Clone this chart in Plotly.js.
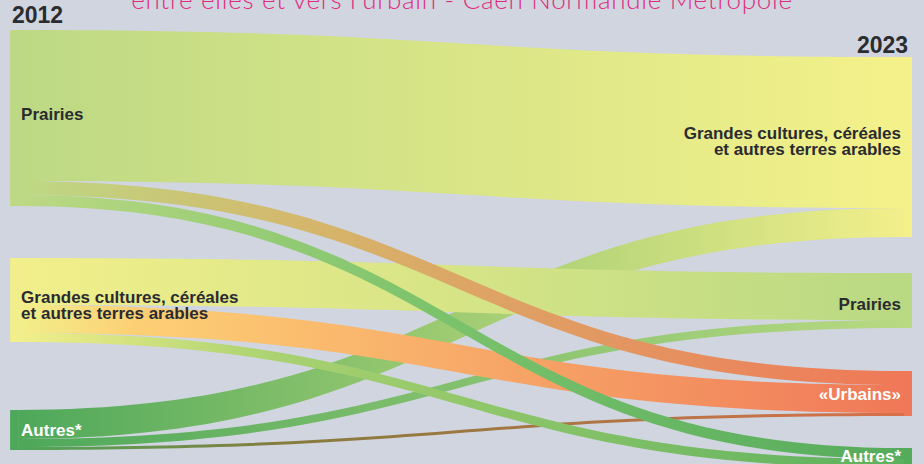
<!DOCTYPE html>
<html>
<head>
<meta charset="utf-8">
<script src="https://cdn.plot.ly/plotly-3.0.1.min.js"></script>
<style>
html,body{margin:0;padding:0;overflow:hidden;background:#d0d5df;width:924px;height:464px;}
#plot{width:924px;height:500px;}
</style>
</head>
<body>
<div id="plot"></div>
<script>
// ---- data ----
const titleText = "entre elles et vers l'urbain - Caen Normandie Métropole";
const yearLabels = ['2012', '2023'];
const nodeLabels = [
  'Prairies',
  'Grandes cultures, céréales<br>et autres terres arables',
  'Autres*',
  'Grandes cultures, céréales<br>et autres terres arables',
  'Prairies',
  '«Urbains»',
  'Autres*'
];
const linkSource = [2, 2, 2, 1, 1, 1, 0, 0, 0];
const linkTarget = [3, 4, 5, 4, 5, 6, 3, 5, 6];
const linkValue  = [29, 8, 3, 47, 28, 9, 151, 14, 11];

// ---- styles / layout ----
const nodeColors = ['#bdd984', '#f2ef8b', '#4ea85a', '#f4f18a', '#b9d982', '#f07858', '#55ab5c'];
const labelColors = ['#2a2b30', '#2a2b30', '#ffffff', '#2a2b30', '#2a2b30', '#ffffff', '#ffffff'];
const labelShift = [-4, 6, 0, -5, 4, 1, -2];
const nodeX = [0.0001, 0.0001, 0.0001, 1, 1, 1, 1];
const nodeY = [0.21778, 0.62222, 0.91111, 0.28222, 0.62333, 0.83, 0.97333];
const linkStops = [
  [[0, '#4ea85a'], [1, '#f2ef8b']],
  [[0, '#4ea85a'], [1, '#b9d982']],
  [[0, '#4ea85a'], [0.3, '#857b3e'], [1, '#d8704a']],
  [[0, '#f2ef8b'], [1, '#b9d982']],
  [[0, '#f2ef8b'], [0.13, '#fdd075'], [1, '#f07858']],
  [[0, '#f2ef8b'], [0.3, '#a8d170'], [1, '#5cb05e']],
  [[0, '#bdd984'], [1, '#f4f18a']],
  [[0, '#bdd984'], [0.35, '#d6b46a'], [1, '#f07858']],
  [[0, '#bdd984'], [0.45, '#7dc46c'], [1, '#55ab5c']]
];
const linkFallback = linkStops.map(s => s[Math.floor(s.length / 2)][1]);

const trace = {
  type: 'sankey',
  arrangement: 'fixed',
  domain: {x: [0, 1], y: [0, 1]},
  node: {
    label: nodeLabels,
    color: nodeColors,
    x: nodeX,
    y: nodeY,
    pad: 50,
    thickness: 8,
    line: {width: 0},
    hoverinfo: 'none'
  },
  link: {
    source: linkSource,
    target: linkTarget,
    value: linkValue,
    color: linkFallback,
    line: {width: 0},
    hoverinfo: 'none'
  },
  textfont: {family: 'Liberation Sans, Arial, sans-serif', size: 17, weight: 'bold', color: '#2a2b30', shadow: 'none'}
};

const layout = {
  width: 924,
  height: 500,
  margin: {l: 14, r: 16, t: 20, b: 30},
  paper_bgcolor: '#d0d5df',
  plot_bgcolor: '#d0d5df',
  title: {
    text: titleText,
    x: 0.5, xref: 'container', xanchor: 'center',
    y: 1, yref: 'container', yanchor: 'middle',
    font: {family: 'Lato, Open Sans, sans-serif', size: 26, weight: 300, color: '#e02c7f'}
  },
  annotations: [
    {text: yearLabels[0], xref: 'paper', yref: 'paper', x: -0.0045, y: 1.01, xanchor: 'left', yanchor: 'middle',
     showarrow: false, font: {family: 'Liberation Sans, Arial, sans-serif', size: 23, weight: 'bold', color: '#2b2c30'}},
    {text: yearLabels[1], xref: 'paper', yref: 'paper', x: 1.0022, y: 0.944, xanchor: 'right', yanchor: 'middle',
     showarrow: false, font: {family: 'Liberation Sans, Arial, sans-serif', size: 23, weight: 'bold', color: '#2b2c30'}}
  ]
};

function decorate() {
  const gd = document.getElementById('plot');
  const svg = gd.querySelector('.main-svg');
  if (!svg) return;
  const ns = 'http://www.w3.org/2000/svg';
  let defs = document.getElementById('linkgrads');
  if (!defs) {
    defs = document.createElementNS(ns, 'defs');
    defs.setAttribute('id', 'linkgrads');
    svg.insertBefore(defs, svg.firstChild);
    linkStops.forEach((stops, i) => {
      const g = document.createElementNS(ns, 'linearGradient');
      g.setAttribute('id', 'lg' + i);
      g.setAttribute('x1', '0'); g.setAttribute('x2', '1');
      g.setAttribute('y1', '0'); g.setAttribute('y2', '0');
      stops.forEach(s => {
        const st = document.createElementNS(ns, 'stop');
        st.setAttribute('offset', s[0]);
        st.setAttribute('stop-color', s[1]);
        g.appendChild(st);
      });
      defs.appendChild(g);
    });
  }
  gd.querySelectorAll('.sankey-link').forEach((p, idx) => {
    const d = p.__data__ || {};
    let i = (d.link && d.link.pointNumber !== undefined) ? d.link.pointNumber :
            (d.pointNumber !== undefined ? d.pointNumber : idx);
    p.style.fill = 'url(#lg' + i + ')';
    p.style.fillOpacity = 1;
  });
  const title = gd.querySelector('.gtitle');
  if (title) title.style.letterSpacing = '0.7px';
  gd.querySelectorAll('.sankey-node').forEach((n, idx) => {
    const d = n.__data__ || {};
    let i = (d.node && d.node.pointNumber !== undefined) ? d.node.pointNumber : idx;
    const t = n.querySelector('.node-label');
    if (t && labelColors[i]) {
      t.style.fill = labelColors[i];
      t.style.textShadow = 'none';
      const lines = t.querySelectorAll('tspan.line');
      if (lines.length > 1 && !t.dataset.adj) {
        t.dataset.adj = '1';
        lines.forEach((ln, k) => {
          if (k === 0) {
            const dy = parseFloat(ln.getAttribute('dy') || '0');
            ln.setAttribute('dy', (dy + 0.125) + 'em');
          } else {
            ln.setAttribute('dy', '1.05em');
          }
        });
      }
      const sh = labelShift[i] || 0;
      if (sh) {
        const suffix = ' translate(0,' + sh + ')';
        const cur = t.getAttribute('transform') || '';
        if (!cur.endsWith(suffix)) t.setAttribute('transform', cur + suffix);
      }
    }
  });
}

Plotly.newPlot('plot', [trace], layout, {displayModeBar: false, staticPlot: true}).then(() => {
  decorate();
  setTimeout(decorate, 50);
  setTimeout(decorate, 300);
  setTimeout(decorate, 700);
});
</script>
</body>
</html>
